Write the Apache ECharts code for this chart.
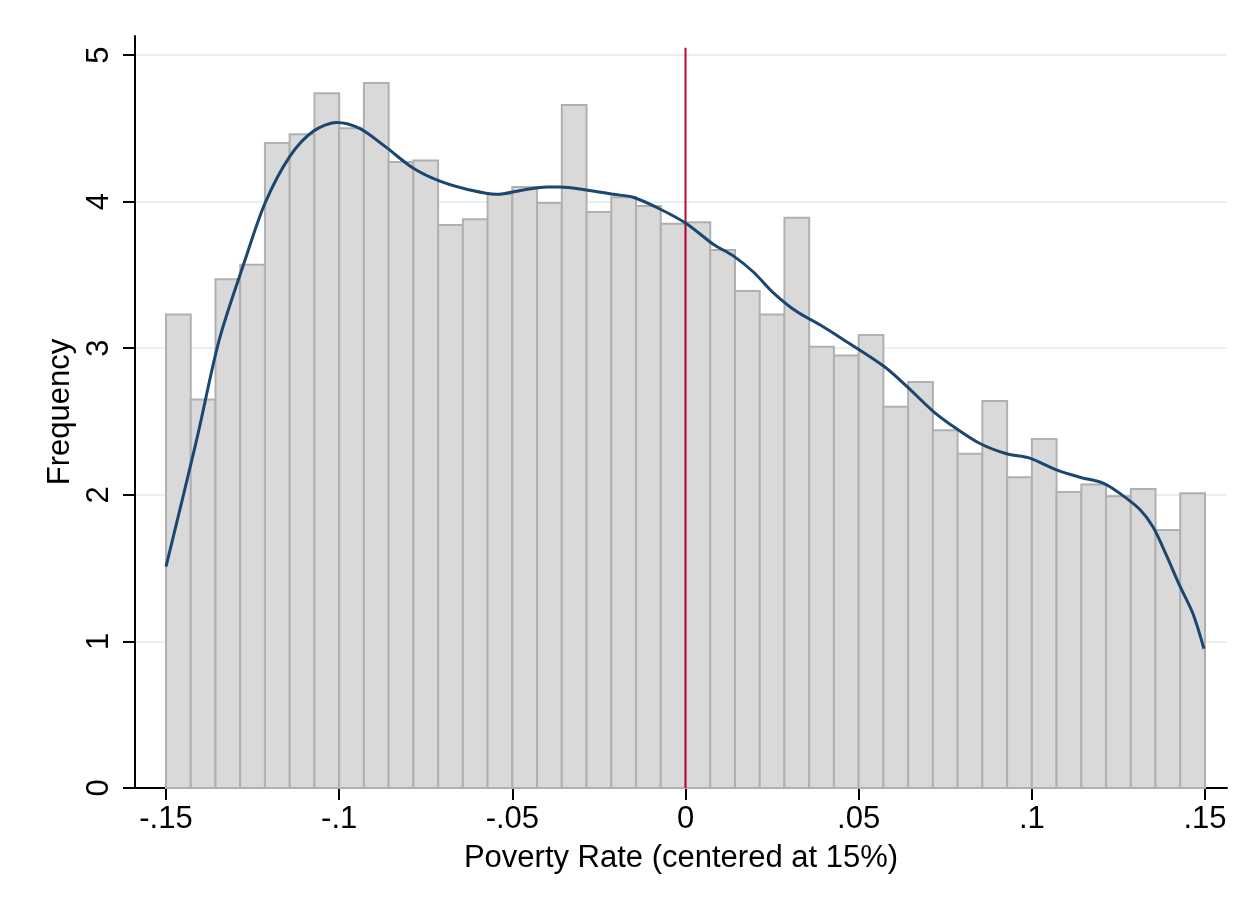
<!DOCTYPE html>
<html>
<head>
<meta charset="utf-8">
<script src="https://cdn.jsdelivr.net/npm/echarts@6/dist/echarts.min.js"></script>
<style>
  html, body { margin: 0; padding: 0; background: #fff; }
  #main { width: 1257px; height: 907px; }
</style>
</head>
<body>
<div id="main"></div>
<script>
// histogram: 42 bins from -.15 to .15
var binStart = -0.15;
var binWidth = 0.3 / 42;
var freq = [3.23, 2.65, 3.47, 3.57, 4.40, 4.46, 4.74, 4.50, 4.81, 4.27,
            4.28, 3.84, 3.88, 4.05, 4.10, 3.99, 4.66, 3.93, 4.03, 3.97,
            3.85, 3.86, 3.67, 3.39, 3.23, 3.89, 3.01, 2.95, 3.09, 2.60,
            2.77, 2.44, 2.28, 2.64, 2.12, 2.38, 2.02, 2.07, 1.99, 2.04,
            1.76, 2.01];

// kernel density curve
var kdeX = [-0.15, -0.1411, -0.1346, -0.1272, -0.1214, -0.1142, -0.1075, -0.1008, -0.0941, -0.0864,
            -0.0787, -0.0709, -0.0623, -0.0546, -0.0468, -0.0401, -0.0363, -0.0286, -0.0209, -0.0151,
            -0.0074, 0.0003, 0.0080, 0.0138, 0.0196, 0.0253, 0.0321, 0.0388, 0.0455, 0.0571,
            0.0639, 0.0715, 0.0783, 0.0850, 0.0927, 0.0994, 0.1071, 0.1139, 0.1206, 0.1254,
            0.1312, 0.1350, 0.1388, 0.1427, 0.1465, 0.1497];
var kdeY = [1.51, 2.38, 3.06, 3.60, 3.99, 4.31, 4.48, 4.54, 4.50, 4.37,
            4.23, 4.14, 4.08, 4.05, 4.08, 4.10, 4.10, 4.08, 4.05, 4.03,
            3.95, 3.85, 3.71, 3.63, 3.52, 3.38, 3.25, 3.16, 3.06, 2.88,
            2.74, 2.57, 2.45, 2.35, 2.28, 2.25, 2.17, 2.12, 2.08, 2.01,
            1.90, 1.78, 1.59, 1.38, 1.19, 0.95];

// vertical reference line at 0
var cutoffX = 0;
var cutoffTop = 5.05;

var xTicks = [-0.15, -0.1, -0.05, 0, 0.05, 0.1, 0.15];
var xTickLabels = ['-.15', '-.1', '-.05', '0', '.05', '.1', '.15'];
var yTicks = [0, 1, 2, 3, 4, 5];

var histData = [];
for (var i = 0; i < freq.length; i++) {
  histData.push([binStart + i * binWidth, binStart + (i + 1) * binWidth, freq[i]]);
}
var kdeData = [];
for (var j = 0; j < kdeX.length; j++) {
  kdeData.push([kdeX[j], kdeY[j]]);
}

var fontFam = '"Liberation Sans", Arial, Helvetica, sans-serif';

var myChart = echarts.init(document.getElementById('main'));
var option = {
  backgroundColor: '#fff',
  animation: false,
  grid: { left: 135, right: 30, top: 36, bottom: 119 },
  xAxis: {
    type: 'value',
    min: -0.15895,
    max: 0.15635,
    name: 'Poverty Rate (centered at 15%)',
    nameLocation: 'middle',
    nameGap: 55,
    nameTextStyle: { fontFamily: fontFam, fontSize: 31, color: '#000' },
    axisLine: { show: true, onZero: false, lineStyle: { color: '#000', width: 2 } },
    axisTick: { show: true, length: 12, customValues: xTicks, lineStyle: { color: '#000', width: 2 } },
    axisLabel: {
      customValues: xTicks,
      margin: 16,
      fontFamily: fontFam, fontSize: 31, color: '#000',
      formatter: function (v) {
        var k = xTicks.indexOf(v);
        return k >= 0 ? xTickLabels[k] : '';
      }
    },
    splitLine: { show: false }
  },
  yAxis: {
    type: 'value',
    min: 0,
    max: 5.13,
    name: 'Frequency',
    nameLocation: 'middle',
    nameGap: 52,
    nameRotate: 90,
    nameTextStyle: { fontFamily: fontFam, fontSize: 31, color: '#000' },
    axisLine: { show: true, onZero: false, lineStyle: { color: '#000', width: 2 } },
    axisTick: { show: true, length: 12, customValues: yTicks, lineStyle: { color: '#000', width: 2 } },
    axisLabel: {
      customValues: yTicks,
      rotate: 90,
      margin: 20,
      fontFamily: fontFam, fontSize: 31, color: '#000'
    },
    splitLine: { show: true, lineStyle: { color: '#e8f0f2', width: 2 } }
  },
  series: [
    {
      name: 'hist',
      type: 'custom',
      data: histData,
      encode: { x: [0, 1], y: 2 },
      renderItem: function (params, api) {
        var p0 = api.coord([api.value(0), api.value(2)]);
        var p1 = api.coord([api.value(1), 0]);
        return {
          type: 'rect',
          shape: { x: p0[0], y: p0[1], width: p1[0] - p0[0], height: p1[1] - p0[1] },
          style: { fill: '#d9d9d9', stroke: '#b0b0b0', lineWidth: 2 }
        };
      },
      z: 2
    },
    {
      name: 'cutoff',
      type: 'line',
      data: [[cutoffX, 0], [cutoffX, cutoffTop]],
      symbol: 'none',
      lineStyle: { color: '#c10534', width: 2 },
      z: 3
    },
    {
      name: 'kdensity',
      type: 'line',
      data: kdeData,
      smooth: 0.3,
      symbol: 'none',
      lineStyle: { color: '#1a476f', width: 3 },
      z: 4
    }
  ]
};
myChart.setOption(option);
</script>
</body>
</html>
